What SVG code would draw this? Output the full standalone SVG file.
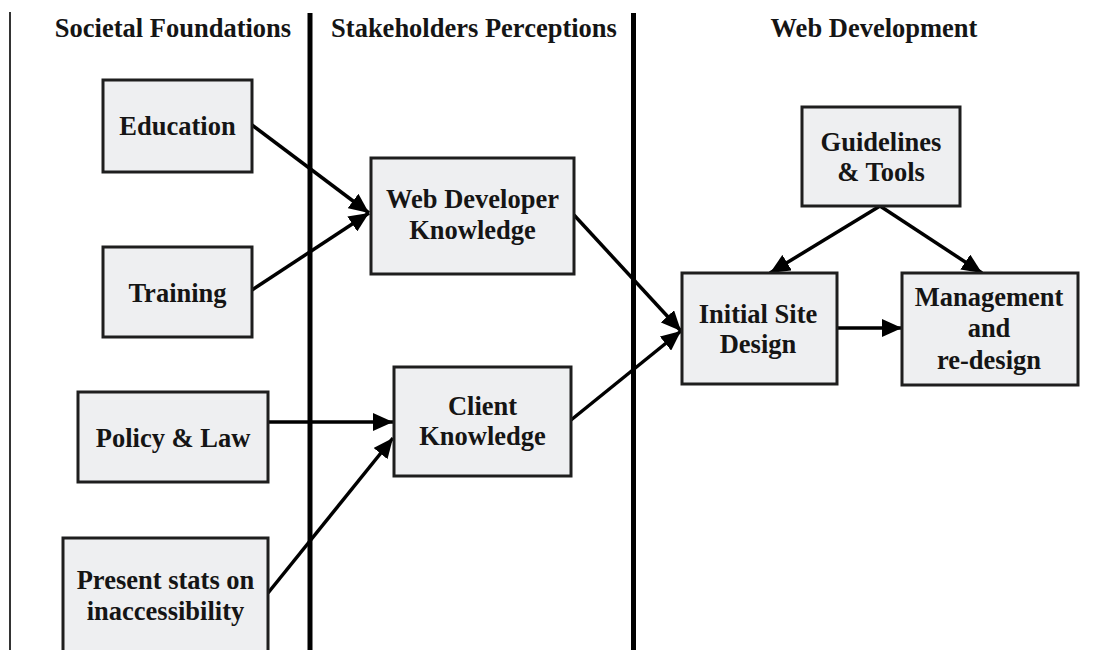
<svg xmlns="http://www.w3.org/2000/svg" width="1113" height="650" viewBox="0 0 1113 650">
  <style>
    .bg { fill: #ffffff; }
    .box { fill: #eeeff1; stroke: #1e1e1e; stroke-width: 3; }
    .label { font-family: "Liberation Serif", "Times New Roman", serif; font-weight: bold; font-size: 26.5px; fill: #151515; text-anchor: middle; }
    .divider { stroke: #000000; stroke-width: 5; }
    .edge { stroke: #000000; stroke-width: 3.5; fill: none; marker-end: url(#arrow); }
  </style>
  <defs>
    <marker id="arrow" markerUnits="userSpaceOnUse" viewBox="0 0 20 18" markerWidth="20" markerHeight="18" refX="20" refY="9" orient="auto">
      <path d="M0,0 L20,9 L0,18 Z" fill="#000000"/>
    </marker>
  </defs>

  <rect class="bg" x="0" y="0" width="1113" height="650"/>

  <!-- column frame -->
  <g id="columns">
    <line x1="10" y1="12" x2="10" y2="650" stroke="#000" stroke-width="1.6"/>
    <line class="divider" x1="310" y1="13" x2="310" y2="650"/>
    <line class="divider" x1="633.5" y1="13" x2="633.5" y2="650"/>
    <text class="label" x="173" y="37">Societal Foundations</text>
    <text class="label" x="474" y="37">Stakeholders Perceptions</text>
    <text class="label" x="874" y="37">Web Development</text>
  </g>

  <!-- connectors -->
  <g id="connectors">
    <line class="edge" x1="252" y1="125" x2="369" y2="213"/>
    <line class="edge" x1="252" y1="290" x2="369" y2="213"/>
    <line class="edge" x1="268" y1="422" x2="393" y2="422"/>
    <line class="edge" x1="268" y1="593" x2="393" y2="438"/>
    <line class="edge" x1="574" y1="215" x2="681" y2="331"/>
    <line class="edge" x1="571" y1="420" x2="681" y2="331"/>
    <line class="edge" x1="880" y1="206" x2="770" y2="273"/>
    <line class="edge" x1="880" y1="206" x2="982" y2="273"/>
    <line class="edge" x1="837" y1="328" x2="902" y2="328"/>
  </g>

  <g id="education">
    <rect class="box" x="103" y="80" width="149" height="92"/>
    <text class="label" x="177.5" y="135">Education</text>
  </g>

  <g id="training">
    <rect class="box" x="103" y="247" width="149" height="90"/>
    <text class="label" x="177.5" y="302">Training</text>
  </g>

  <g id="policy-law">
    <rect class="box" x="78" y="392" width="190" height="90"/>
    <text class="label" x="173" y="447">Policy &amp; Law</text>
  </g>

  <g id="present-stats">
    <rect class="box" x="63" y="538" width="205" height="130"/>
    <text class="label" x="165.5" y="589">Present stats on</text>
    <text class="label" x="165.5" y="620">inaccessibility</text>
  </g>

  <g id="web-developer-knowledge">
    <rect class="box" x="371" y="158" width="203" height="116"/>
    <text class="label" x="472.5" y="208">Web Developer</text>
    <text class="label" x="472.5" y="239">Knowledge</text>
  </g>

  <g id="client-knowledge">
    <rect class="box" x="394" y="367" width="177" height="109"/>
    <text class="label" x="482.5" y="415">Client</text>
    <text class="label" x="482.5" y="445">Knowledge</text>
  </g>

  <g id="guidelines-tools">
    <rect class="box" x="802" y="107" width="158" height="99"/>
    <text class="label" x="881" y="151">Guidelines</text>
    <text class="label" x="881" y="181">&amp; Tools</text>
  </g>

  <g id="initial-site-design">
    <rect class="box" x="682" y="273" width="155" height="111"/>
    <text class="label" x="758" y="323">Initial Site</text>
    <text class="label" x="758" y="353">Design</text>
  </g>

  <g id="management-redesign">
    <rect class="box" x="902" y="273" width="176" height="112"/>
    <text class="label" x="989" y="306">Management</text>
    <text class="label" x="989" y="337">and</text>
    <text class="label" x="989" y="369">re-design</text>
  </g>
</svg>
